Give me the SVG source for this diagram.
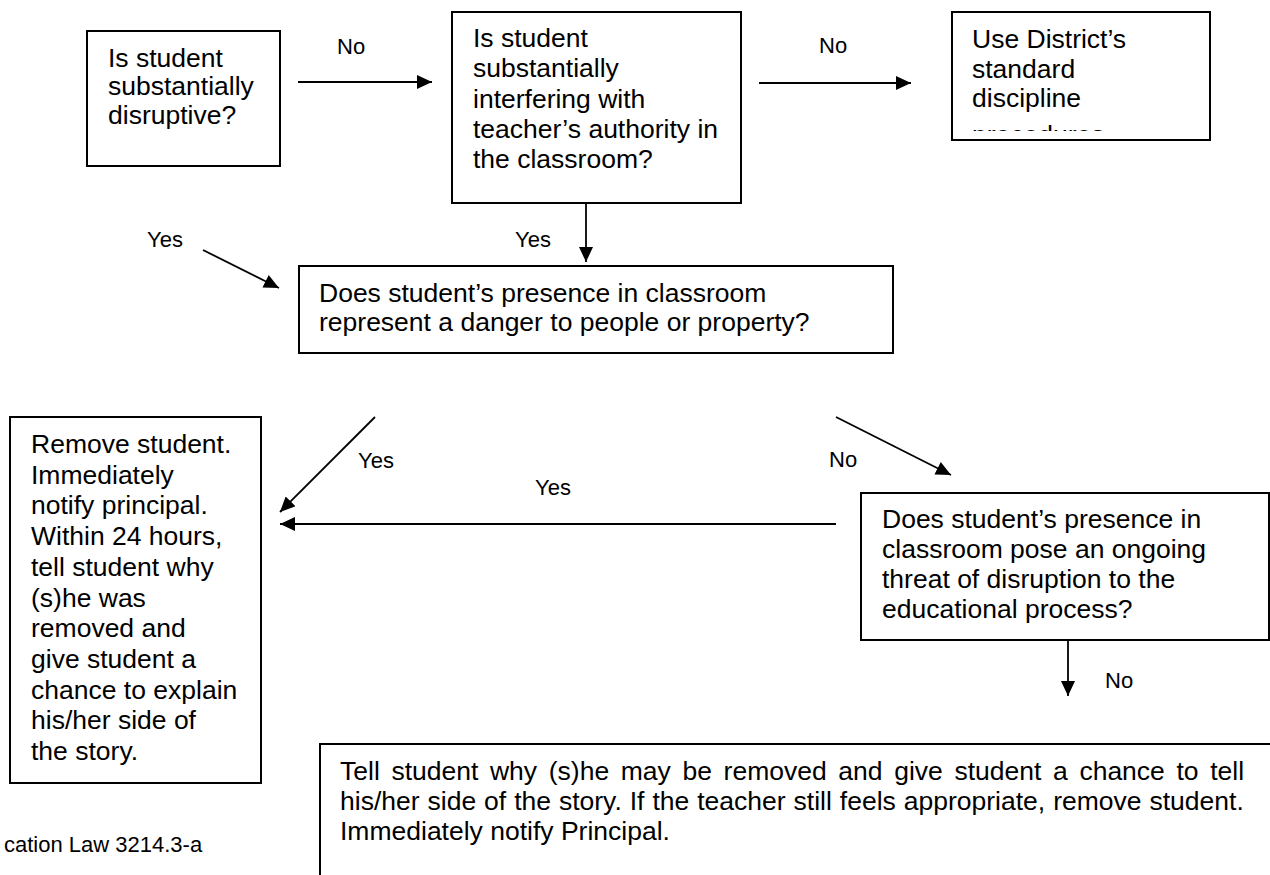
<svg xmlns="http://www.w3.org/2000/svg" width="1270" height="875" viewBox="0 0 1270 875">
<defs>
<style>
.box{fill:#fff;stroke:#000;stroke-width:2}
.t{font-family:"Liberation Sans",Arial,sans-serif;font-size:26.5px;fill:#000}
.lbl{font-family:"Liberation Sans",Arial,sans-serif;font-size:22px;fill:#000}
.conn{stroke:#000;stroke-width:1.8;fill:none;marker-end:url(#arr)}
</style>
<marker id="arr" markerUnits="userSpaceOnUse" markerWidth="16" markerHeight="14" refX="15" refY="7" orient="auto">
<path d="M0,0 L15,7 L0,14 z" fill="#000"/>
</marker>
<clipPath id="clip4"><rect x="952" y="12" width="258" height="119"/></clipPath>
</defs>
<rect width="1270" height="875" fill="#fff"/>

<g id="n1">
<rect class="box" x="87" y="31" width="193" height="135"/>
<text class="t" x="108" y="66.5">Is student</text>
<text class="t" x="108" y="95">substantially</text>
<text class="t" x="108" y="123.5">disruptive?</text>
</g>

<g id="n2">
<rect class="box" x="452" y="12" width="289" height="191"/>
<text class="t" x="473" y="47">Is student</text>
<text class="t" x="473" y="77.3">substantially</text>
<text class="t" x="473" y="107.6">interfering with</text>
<text class="t" x="473" y="137.9">teacher’s authority in</text>
<text class="t" x="473" y="168.2">the classroom?</text>
</g>

<g id="n3">
<rect class="box" x="952" y="12" width="258" height="128"/>
<text class="t" x="972" y="47.5">Use District’s</text>
<text class="t" x="972" y="77.5">standard</text>
<text class="t" x="972" y="107">discipline</text>
<text class="t" x="972" y="144" clip-path="url(#clip4)">procedures</text>
</g>

<g id="n4">
<rect class="box" x="299" y="266" width="594" height="87"/>
<text class="t" x="319" y="301.5">Does student’s presence in classroom</text>
<text class="t" x="319" y="331">represent a danger to people or property?</text>
</g>

<g id="n5">
<rect class="box" x="10" y="417" width="251" height="366"/>
<text class="t" x="31" y="453">Remove student.</text>
<text class="t" x="31" y="483.7">Immediately</text>
<text class="t" x="31" y="514.4">notify principal.</text>
<text class="t" x="31" y="545.1">Within 24 hours,</text>
<text class="t" x="31" y="575.8">tell student why</text>
<text class="t" x="31" y="606.5">(s)he was</text>
<text class="t" x="31" y="637.2">removed and</text>
<text class="t" x="31" y="667.9">give student a</text>
<text class="t" x="31" y="698.6">chance to explain</text>
<text class="t" x="31" y="729.3">his/her side of</text>
<text class="t" x="31" y="760">the story.</text>
</g>

<g id="n6">
<rect class="box" x="861" y="493" width="408" height="147"/>
<text class="t" x="882" y="528">Does student’s presence in</text>
<text class="t" x="882" y="558">classroom pose an ongoing</text>
<text class="t" x="882" y="588">threat of disruption to the</text>
<text class="t" x="882" y="618">educational process?</text>
</g>

<g id="n7">
<rect class="box" x="320" y="744" width="960" height="140"/>
<text class="t" x="340" y="780" word-spacing="4.28">Tell student why (s)he may be removed and give student a chance to tell</text>
<text class="t" x="340" y="810" word-spacing="0.6">his/her side of the story. If the teacher still feels appropriate, remove student.</text>
<text class="t" x="340" y="840">Immediately notify Principal.</text>
</g>

<g id="connectors">
<line class="conn" x1="298" y1="82" x2="432" y2="82"/>
<line class="conn" x1="759" y1="83" x2="911" y2="83"/>
<line class="conn" x1="586" y1="203" x2="586" y2="262"/>
<line class="conn" x1="203" y1="250" x2="279" y2="288"/>
<line class="conn" x1="375" y1="417" x2="280" y2="512"/>
<line class="conn" x1="836" y1="524" x2="280" y2="524"/>
<line class="conn" x1="836" y1="417" x2="951" y2="475"/>
<line class="conn" x1="1068" y1="640" x2="1068" y2="696"/>
</g>

<g id="labels">
<text class="lbl" x="337" y="54">No</text>
<text class="lbl" x="819" y="53">No</text>
<text class="lbl" x="147" y="247">Yes</text>
<text class="lbl" x="515" y="247">Yes</text>
<text class="lbl" x="358" y="468">Yes</text>
<text class="lbl" x="535" y="495">Yes</text>
<text class="lbl" x="829" y="467">No</text>
<text class="lbl" x="1105" y="688">No</text>
</g>

<text class="lbl" x="4" y="852">cation Law 3214.3-a</text>
</svg>
